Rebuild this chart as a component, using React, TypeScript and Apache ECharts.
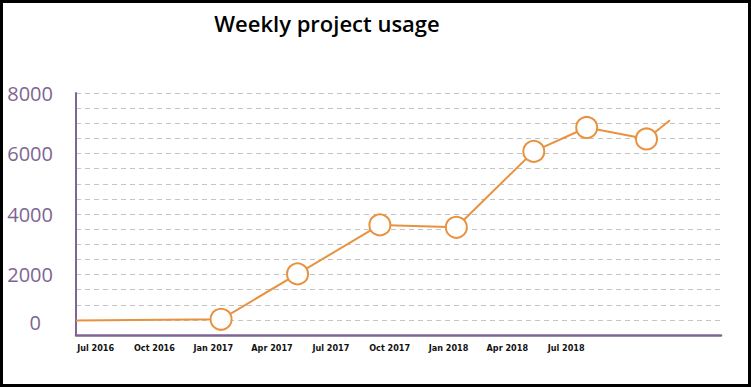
import React, { useEffect, useRef } from "react";
import * as echarts from "echarts";

// x positions are months counted from Jul 2016 (0 = Jul 2016)
const monthIndex = [-1, 6.4, 10.3, 14.5, 18.4, 22.35, 25.05, 28.1, 29.3];
const usage = [480, 520, 2020, 3640, 3560, 6070, 6860, 6480, 7100];
const tickMonths = [0, 3, 6, 9, 12, 15, 18, 21, 24];
const tickLabels = [
  "Jul 2016",
  "Oct 2016",
  "Jan 2017",
  "Apr 2017",
  "Jul 2017",
  "Oct 2017",
  "Jan 2018",
  "Apr 2018",
  "Jul 2018",
];
const yLabelValues = [0, 2000, 4000, 6000, 8000];

const ORANGE = "#E8923F";
const PURPLE = "#7E6592";

export default function App() {
  const ref = useRef<HTMLDivElement>(null);
  useEffect(() => {
    if (!ref.current) return;
    const chart = echarts.init(ref.current, null, { renderer: "svg" });
    const data = monthIndex.map((m, i) => {
      const d: any = { value: [m, usage[i]] };
      if (i === 0 || i === monthIndex.length - 1) d.symbol = "none";
      return d;
    });
    chart.setOption({
      animation: false,
      backgroundColor: "#fff",
      title: {
        text: "Weekly project usage",
        left: 322,
        textAlign: "center",
        top: 7,
        textStyle: {
          fontFamily: "'Open Sans', sans-serif",
          fontWeight: 600,
          fontSize: 22,
          color: "#000",
        },
      },
      grid: { left: 76, right: 30, top: 93, bottom: 52 },
      xAxis: {
        type: "value",
        min: -1,
        max: 31.9,
        splitLine: { show: false },
        axisTick: { show: false },
        axisLine: { show: true, onZero: false, lineStyle: { color: PURPLE, width: 2.5 } },
        axisLabel: {
          customValues: tickMonths,
          formatter: (v: number) => {
            const i = tickMonths.indexOf(Math.round(v));
            return i >= 0 ? tickLabels[i] : "";
          },
          margin: 8,
          fontFamily: "'Liberation Sans Narrow', 'DejaVu Sans Condensed', sans-serif",
          fontWeight: "bold",
          fontSize: 9,
          color: "#111",
        },
      },
      yAxis: {
        type: "value",
        min: 0,
        max: 8000,
        interval: 500,
        axisLine: { show: true, onZero: false, lineStyle: { color: PURPLE, width: 2 } },
        axisTick: { show: false },
        splitLine: {
          show: true,
          lineStyle: { color: "#c4c4c4", type: [5, 4], width: 1 },
        },
        axisLabel: {
          margin: 23,
          color: PURPLE,
          fontFamily: "'Open Sans', sans-serif",
          fontSize: 20,
          formatter: (v: number) => {
            if (!yLabelValues.includes(v)) return "";
            if (v === 0) return "{zero|0}";
            return String(v);
          },
          rich: {
            zero: {
              color: PURPLE,
              fontFamily: "'Open Sans', sans-serif",
              fontSize: 20,
              padding: [0, 12, 26, 0],
            },
          },
        },
      },
      series: [
        {
          type: "line",
          data,
          symbol: "circle",
          symbolSize: 21,
          lineStyle: { color: ORANGE, width: 2 },
          itemStyle: { color: "#fff", borderColor: ORANGE, borderWidth: 2 },
          z: 3,
        },
      ],
    });
    return () => chart.dispose();
  }, []);
  return (
    <div style={{ position: "fixed", left: 0, top: 0, width: 751, height: 387 }}>
      <div ref={ref} style={{ width: 751, height: 387 }} />
      <div
        style={{
          position: "absolute",
          left: 0,
          top: 0,
          width: 751,
          height: 387,
          boxSizing: "border-box",
          border: "3px solid #000",
          pointerEvents: "none",
        }}
      />
    </div>
  );
}
